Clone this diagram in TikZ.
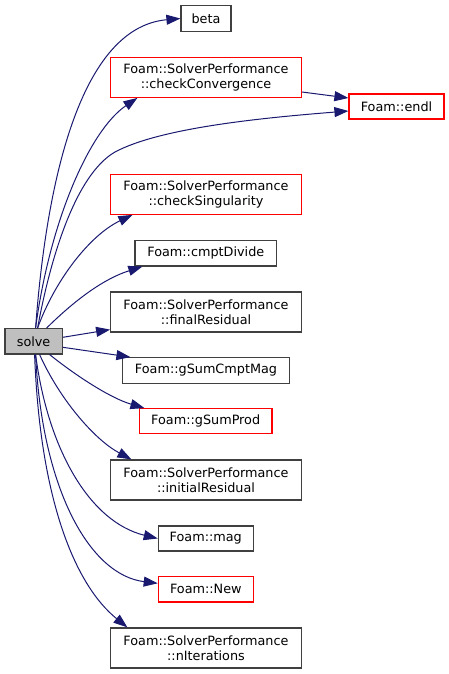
\documentclass[tikz,border=0pt]{standalone}
\usepackage{fontspec}
\setmainfont{DejaVu Sans}
\usetikzlibrary{arrows.meta}
\definecolor{edgec}{HTML}{191970}
\definecolor{boxred}{HTML}{FF0000}
\definecolor{boxblk}{HTML}{404040}
\begin{document}
\begin{tikzpicture}[x=1pt,y=-1pt,
  fn/.style={draw=boxblk,line width=1.2pt,fill=white,inner sep=0pt,align=center,
    font=\fontsize{12.8}{15}\selectfont},
  fnred/.style={fn,draw=boxred},
  cur/.style={fn,fill=black!25},
  call/.style={draw=edgec,line width=1pt,-{Triangle[length=14pt,width=10pt,fill=edgec]}}]
\useasboundingbox (0,0) rectangle (449,674);
\node[fn,minimum width=50pt,minimum height=25.5pt] (beta) at (206,18.5) {beta};
\node[fnred,minimum width=190.6pt,minimum height=39.6pt] (conv) at (206,77.5) {Foam::SolverPerformance\\::checkConvergence};
\node[fnred,minimum width=95pt,minimum height=25pt] (endl) at (396.5,106.5) {Foam::endl};
\node[fnred,minimum width=190.6pt,minimum height=39.6pt] (sing) at (206,194.5) {Foam::SolverPerformance\\::checkSingularity};
\node[fn,minimum width=141.7pt,minimum height=25.3pt] (cmpt) at (205.8,253.3) {Foam::cmptDivide};
\node[fn,minimum width=190.6pt,minimum height=40pt] (final) at (206,312) {Foam::SolverPerformance\\::finalResidual};
\node[cur,minimum width=57.3pt,minimum height=25.3pt] (solve) at (33.6,341.3) {solve};
\node[fn,minimum width=166.6pt,minimum height=25.6pt] (gscm) at (206,370.5) {Foam::gSumCmptMag};
\node[fnred,minimum width=132.7pt,minimum height=24.6pt] (gsp) at (205.7,421) {Foam::gSumProd};
\node[fn,minimum width=190.6pt,minimum height=40pt] (init) at (206,480) {Foam::SolverPerformance\\::initialResidual};
\node[fn,minimum width=95pt,minimum height=25pt] (mag) at (205.8,538.5) {Foam::mag};
\node[fnred,minimum width=95pt,minimum height=25.3pt] (new) at (205.8,589.3) {Foam::New};
\node[fn,minimum width=190.6pt,minimum height=40pt] (nit) at (206,648) {Foam::SolverPerformance\\::nIterations};
% edges
\draw[call] ([xshift=2pt]solve.north) .. controls (45,200) and (75,28) .. (beta.west);
\draw[call] ([xshift=2pt]solve.north) .. controls (50,220) and (90,130) .. ([xshift=27.3pt]conv.south west);
\draw[call] ([xshift=4pt]solve.north) .. controls (50,260) and (75,175) .. (115,152) .. controls (160,128) and (260,118) .. ([yshift=-4.5pt]endl.west);
\draw[call] ([yshift=-14.5pt]conv.east) -- ([yshift=8.5pt]endl.west);
\draw[call] ([xshift=4pt]solve.north) .. controls (55,280) and (90,235) .. ([xshift=22.3pt]sing.south west);
\draw[call] ([xshift=13pt]solve.north) .. controls (70,305) and (100,280) .. ([xshift=8pt]cmpt.south west);
\draw[call] ([yshift=4pt]solve.east) -- ([yshift=3pt]final.south west);
\draw[call] ([yshift=-6pt]solve.east) -- ([xshift=8.3pt]gscm.north west);
\draw[call] ([xshift=16pt]solve.south) .. controls (75,375) and (110,398) .. ([xshift=5.7pt]gsp.north west);
\draw[call] ([xshift=6pt]solve.south) .. controls (60,400) and (95,440) .. ([xshift=21.3pt]init.north west);
\draw[call] ([xshift=2pt]solve.south) .. controls (48,450) and (90,522) .. (mag.west);
\draw[call] ([xshift=2pt]solve.south) .. controls (42,490) and (90,575) .. ([yshift=6pt]new.west);
\draw[call] ([xshift=1pt]solve.south) .. controls (40,500) and (75,585) .. ([xshift=17.3pt]nit.north west);
\end{tikzpicture}
\end{document}
